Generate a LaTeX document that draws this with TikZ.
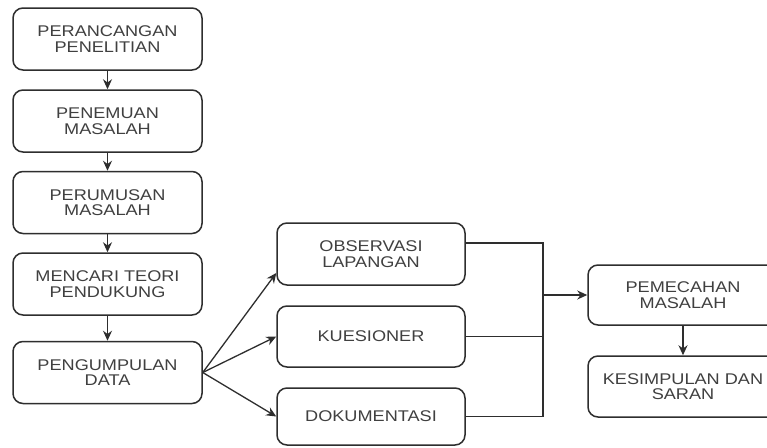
\documentclass[tikz,border=0pt]{standalone}
\usepackage{fontspec}
\setmainfont{Liberation Sans}[FakeStretch=1.17]
\usetikzlibrary{arrows.meta}
\definecolor{linec}{HTML}{2E2E2E}
\definecolor{txtc}{HTML}{404040}
\begin{document}
\begin{tikzpicture}[x=1pt,y=-1pt,
 box/.style={draw=linec, line width=1.5pt, rounded corners=10pt, minimum width=189pt, minimum height=62pt, align=center, font=\fontsize{15.5}{15.5}\selectfont, text=txtc, inner sep=0pt},
 arr/.style={-{Stealth[length=10pt,width=9pt]}, line width=1.3pt, draw=linec},
 ln/.style={line width=1.3pt, draw=linec}]
\useasboundingbox (0,0) rectangle (767,447);
\clip (0,0) rectangle (767,447);
\fill[white] (0,0) rectangle (767,447);
\node[box] (a) at (107.5,39) {PERANCANGAN\\PENELITIAN};
\node[box] (b) at (107.5,121) {PENEMUAN\\MASALAH};
\node[box] (c) at (107.5,202.5) {PERUMUSAN\\MASALAH};
\node[box] (d) at (107.5,284) {MENCARI TEORI\\PENDUKUNG};
\node[box] (e) at (107.5,372.5) {PENGUMPULAN\\DATA};
\node[box, minimum width=188pt] (f) at (371,254) {OBSERVASI\\LAPANGAN};
\node[box, minimum width=188pt, minimum height=61pt] (g) at (371,336.5) {KUESIONER};
\node[box, minimum width=188pt, minimum height=57pt] (h) at (371,416.5) {DOKUMENTASI};
\node[box, minimum width=190pt, minimum height=60pt] (i) at (683,295) {PEMECAHAN\\MASALAH};
\node[box, minimum width=190pt, minimum height=61pt] (j) at (683,386.5) {KESIMPULAN DAN\\SARAN};
\draw[arr] (a) -- (b);
\draw[arr] (b) -- (c);
\draw[arr] (c) -- (d);
\draw[arr] (d) -- (e);
\draw[arr] (e.east) -- ([yshift=-19pt]f.west);
\draw[arr] (e.east) -- (g.west);
\draw[arr] (e.east) -- (h.west);
\coordinate (bx) at (543,0);
\draw[ln] ([yshift=11pt]f.east) -| (bx |- h.east) -- (h.east);
\draw[ln] (g.east) -- (bx |- g.east);
\draw[arr] (bx |- i.west) -- (i.west);
\draw[arr] (i) -- (j);
\end{tikzpicture}
\end{document}
